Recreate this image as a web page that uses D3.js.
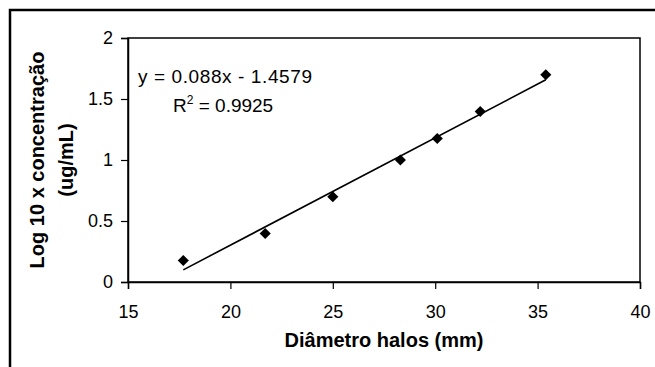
<!DOCTYPE html>
<html>
<head>
<meta charset="utf-8">
<script src="https://cdn.jsdelivr.net/npm/d3@7"></script>
<style>
  body { margin: 0; background: #fff; }
  svg { display: block; font-family: "Liberation Sans", Arial, sans-serif; }
  .tick text { font-size: 18px; fill: #000; }
  .axisTitle { font-size: 20px; font-weight: bold; }
</style>
</head>
<body>
<div id="chart"></div>
<script>
// data
var diametro = [17.7, 21.7, 25.0, 28.3, 30.1, 32.2, 35.4];
var logConc = [0.176, 0.398, 0.699, 1.0, 1.176, 1.398, 1.699];
var xTicks = [15, 20, 25, 30, 35, 40];
var yTicks = [0, 0.5, 1, 1.5, 2];
var trendCoef = [0.088, -1.4579]; // slope, intercept
var eqLabel = "y = 0.088x - 1.4579";
var r2Label = "0.9925";

var W = 655, H = 367;
var plot = {left: 128, right: 640, top: 38, bottom: 282};

var svg = d3.select("#chart").append("svg")
	.attr("width", W)
	.attr("height", H);

// outer frame (runs off the right and bottom edge)
svg.append("rect")
	.attr("x", 10).attr("y", 10)
	.attr("width", 680).attr("height", 400)
	.attr("fill", "none")
	.attr("stroke", "#000")
	.attr("stroke-width", 2.5);

var x = d3.scaleLinear().domain([15, 40]).range([plot.left, plot.right]);
var y = d3.scaleLinear().domain([0, 2]).range([plot.bottom, plot.top]);

// plot area box
svg.append("rect")
	.attr("x", plot.left).attr("y", plot.top)
	.attr("width", plot.right - plot.left)
	.attr("height", plot.bottom - plot.top)
	.attr("fill", "none")
	.attr("stroke", "#000")
	.attr("stroke-width", 1.5);

var xAxis = svg.append("g")
	.attr("transform", "translate(0," + plot.bottom + ")")
	.call(d3.axisBottom(x).tickValues(xTicks).tickSize(7).tickPadding(16).tickFormat(d3.format("d")));

var yAxis = svg.append("g")
	.attr("transform", "translate(" + plot.left + ",0)")
	.call(d3.axisLeft(y).tickValues(yTicks).tickSize(7).tickPadding(8).tickFormat(function(d){ return String(d); }));

[xAxis, yAxis].forEach(function(a) {
	a.select(".domain").attr("stroke", "#000").attr("stroke-width", 1.5);
	a.selectAll(".tick line").attr("stroke", "#000").attr("stroke-width", 1.2);
});

// trend line from the regression equation
var x0 = d3.min(diametro), x1 = d3.max(diametro);
svg.append("line")
	.attr("x1", x(x0)).attr("y1", y(trendCoef[0] * x0 + trendCoef[1]))
	.attr("x2", x(x1)).attr("y2", y(trendCoef[0] * x1 + trendCoef[1]))
	.attr("stroke", "#000")
	.attr("stroke-width", 1.6);

// diamond markers
var diamond = d3.symbol().type(d3.symbolSquare).size(62);
svg.selectAll(".pt")
	.data(diametro)
	.enter()
	.append("path")
	.attr("class", "pt")
	.attr("d", diamond)
	.attr("transform", function(d, i){ return "translate(" + x(d) + "," + y(logConc[i]) + ") rotate(45)"; })
	.attr("fill", "#000");

// equation labels
svg.append("text")
	.attr("x", 138).attr("y", 83)
	.attr("font-size", 19)
	.attr("textLength", 174)
	.attr("lengthAdjust", "spacing")
	.text(eqLabel);

var r2 = svg.append("text")
	.attr("x", 173).attr("y", 112)
	.attr("font-size", 19);
r2.append("tspan").text("R");
r2.append("tspan").attr("dy", -8).attr("font-size", 12).text("2");
r2.append("tspan").attr("dy", 8).text(" = " + r2Label);

// axis titles
svg.append("text")
	.attr("class", "axisTitle")
	.attr("x", (plot.left + plot.right) / 2)
	.attr("y", 347)
	.attr("text-anchor", "middle")
	.text("Diâmetro halos (mm)");

var yt = svg.append("text")
	.attr("class", "axisTitle")
	.attr("transform", "translate(44," + ((plot.top + plot.bottom) / 2) + ") rotate(-90)")
	.attr("text-anchor", "middle");
yt.append("tspan").attr("x", 0).attr("dy", 0).text("Log 10 x concentração");
yt.append("tspan").attr("x", 0).attr("dy", 29).text("(ug/mL)");
</script>
</body>
</html>
